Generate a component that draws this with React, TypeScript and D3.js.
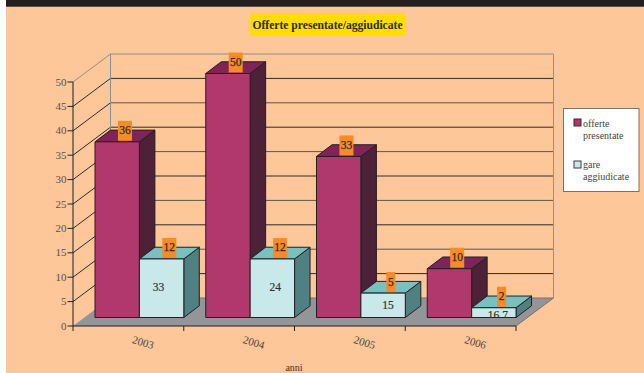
import React from "react";
import * as d3 from "d3";

const years = ["2003", "2004", "2005", "2006"];
const offerte = [36, 50, 33, 10];
const gare = [12, 12, 5, 2];
const innerLabels = ["33", "24", "15", "16.7"];
const yTicks = [0, 5, 10, 15, 20, 25, 30, 35, 40, 45, 50];

const W = 644, H = 373;
const serif = "'Liberation Serif', serif";
const x = d3.scaleBand<string>().domain(years).range([73, 516]);
const y = d3.scaleLinear().domain([0, 50]).range([326, 82]);
const wallDx = 37.5, wallDy = 28;
const barDx = 15.5, barDy = 11.7;
const barInset = 22, barW = 44.4;
const base = 317.5;
const hOf = (v: number) => y(0) - y(v);

function Box({ left, value, front, side, top }: { left: number; value: number; front: string; side: string; top: string }) {
  const yt = base - hOf(value);
  const r = left + barW;
  const p = (a: number[][]) => a.map((q) => q.join(",")).join(" ");
  return (
    <g stroke="#231f20" strokeWidth={1} strokeLinejoin="round">
      <polygon points={p([[r, yt], [r + barDx, yt - barDy], [r + barDx, base - barDy], [r, base]])} fill={side} />
      <polygon points={p([[left, yt], [left + barDx, yt - barDy], [r + barDx, yt - barDy], [r, yt]])} fill={top} />
      <rect x={left} y={yt} width={barW} height={base - yt} fill={front} />
    </g>
  );
}

function Tag({ left, value }: { left: number; value: number }) {
  const yt = base - hOf(value);
  const cx = left + barW / 2 + barDx / 2;
  const w = value < 10 ? 9 : 14;
  return (
    <g>
      <rect x={cx - w / 2} y={yt - 21} width={w} height={20} fill="#f68b28" />
      <text x={cx} y={yt - 7.5} textAnchor="middle" fontSize={11.5} fontWeight={400} stroke="#3a2a20" strokeWidth={0.25} fill="#3a2a20" fontFamily={serif}>{value}</text>
    </g>
  );
}

export default function App() {
  const x0 = 73, x1 = 516;
  return (
    <svg width={W} height={H} style={{ position: "absolute", left: 0, top: 0, background: "#fff" }}>
      <defs>
        <clipPath id="baseClip"><rect x={0} y={0} width={W} height={318} /></clipPath>
      </defs>
      <rect x={6} y={0} width={W - 6} height={H} fill="#fdc799" />
      <rect x={6} y={0} width={W - 6} height={6} fill="#231f20" />
      <line x1={6} x2={W} y1={6.5} y2={6.5} stroke="#5f5045" strokeWidth={1} />

      <rect x={250} y={13} width={155.5} height={23} fill="#ffdd00" />
      <text x={327.5} y={28.5} textAnchor="middle" fontSize={11.6} fontWeight={700} fill="#2f2a14" fontFamily={serif}>Offerte presentate/aggiudicate</text>

      <polygon points={`${x0},${y(0)} ${x1},${y(0)} ${x1 + wallDx},${y(0) - wallDy} ${x0 + wallDx},${y(0) - wallDy}`} fill="#939598" />

      {yTicks.map((t) => {
        const top = t === 50;
        const c = top ? "#8f8f8f" : t === 0 ? "#7a7268" : t % 10 === 0 ? "#5f5448" : "#2e2a2a";
        return (
          <g key={t}>
            {t > 0 && <line x1={x0} y1={y(t)} x2={x0 + wallDx} y2={y(t) - wallDy} stroke={top ? "#8f8f8f" : "#2e2a2a"} strokeWidth={1} />}
            <line x1={x0 + wallDx} x2={x1 + wallDx} y1={y(t) - wallDy} y2={y(t) - wallDy} stroke={c} strokeWidth={1} />
            <line x1={67.5} x2={x0} y1={y(t)} y2={y(t)} stroke="#231f20" strokeWidth={1} />
            <text x={66.5} y={y(t) + 3.5} textAnchor="end" fontSize={11} fill="#5a5048" fontFamily={serif}>{t}</text>
          </g>
        );
      })}
      <line x1={x0 + wallDx} x2={x0 + wallDx} y1={y(50) - wallDy} y2={y(0) - wallDy} stroke="#8f8f8f" />
      <line x1={x1 + wallDx} x2={x1 + wallDx} y1={y(50) - wallDy} y2={y(0) - wallDy} stroke="#9a9288" />
      <line x1={x1} y1={y(0)} x2={x1 + wallDx} y2={y(0) - wallDy} stroke="#7a7268" />
      <line x1={x0} x2={x0} y1={y(50)} y2={y(0)} stroke="#231f20" />
      <line x1={x0} x2={x1} y1={y(0)} y2={y(0)} stroke="#231f20" strokeWidth={1.2} />
      {[...years.map((c) => x(c) as number), x1].map((v) => (
        <line key={v} x1={v} x2={v} y1={y(0)} y2={331} stroke="#231f20" />
      ))}

      {years.map((c, i) => {
        const l = (x(c) as number) + barInset;
        return (
          <g key={c}>
            <Box left={l} value={offerte[i]} front="#b0386c" side="#4d2137" top="#7f2358" />
            <Box left={l + barW} value={gare[i]} front="#c9e8ea" side="#4f8082" top="#78c1bf" />
          </g>
        );
      })}
      {years.map((c, i) => {
        const l = (x(c) as number) + barInset;
        const yt = base - hOf(gare[i]);
        const ty = (yt + base) / 2 + (i === 2 ? 4 : 3);
        return (
          <g key={c}>
            <Tag left={l} value={offerte[i]} />
            <Tag left={l + barW} value={gare[i]} />
            <text x={l + barW * 1.5 - (i === 0 ? 3 : 0) + (i === 1 ? 3 : 0) + (i === 2 ? 5 : 0) + (i === 3 ? 4 : 0)} y={i === 3 ? 319 : ty} clipPath="url(#baseClip)" textAnchor="middle" fontSize={11.5} stroke="#33302f" strokeWidth={0.2} fill="#33302f" fontFamily={serif}>{innerLabels[i]}</text>
            <text transform={`translate(${(x(c) as number) + 69},346) rotate(17)`} textAnchor="middle" fontSize={11} fill="#4a4540" fontFamily={serif}>{c}</text>
          </g>
        );
      })}
      <text x={294} y={371} textAnchor="middle" fontSize={10} fill="#3a3530" fontFamily={serif}>anni</text>

      <rect x={563.5} y={108.5} width={75.5} height={83} fill="#fff" stroke="#77736f" strokeWidth={1} />
      <rect x={574} y={119} width={7} height={7} fill="#b0386c" stroke="#3a2a30" />
      <text fontSize={10} fill="#444" fontFamily={serif}>
        <tspan x={583} y={127}>offerte</tspan>
        <tspan x={583} y={139}>presentate</tspan>
      </text>
      <rect x={574} y={161} width={7} height={7} fill="#c9e8ea" stroke="#3a3a3a" />
      <text fontSize={10} fill="#444" fontFamily={serif}>
        <tspan x={583} y={168}>gare</tspan>
        <tspan x={583} y={180}>aggiudicate</tspan>
      </text>
    </svg>
  );
}
